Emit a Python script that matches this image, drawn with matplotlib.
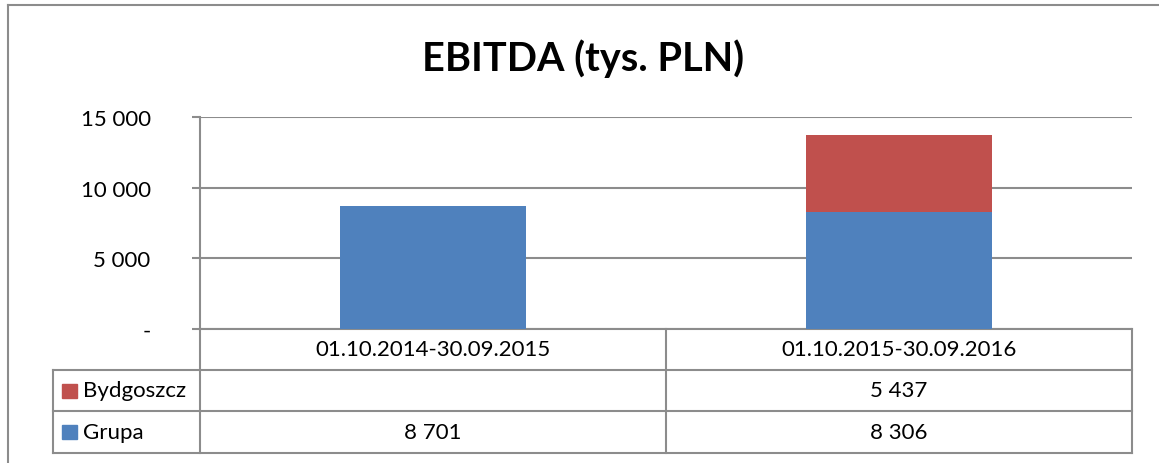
import matplotlib
matplotlib.use("Agg")
import matplotlib.pyplot as plt
from matplotlib.patches import Rectangle
from matplotlib.lines import Line2D

# ---- data ----
categories = ["01.10.2014-30.09.2015", "01.10.2015-30.09.2016"]
series_names = ["Bydgoszcz", "Grupa"]          # table order (top to bottom)
grupa = [8701, 8306]
bydgoszcz = [0, 5437]
bydgoszcz_labels = ["", "5 437"]
grupa_labels = ["8 701", "8 306"]
yticks = [0, 5000, 10000, 15000]
ytick_labels = ["-", "5 000", "10 000", "15 000"]
title = "EBITDA (tys. PLN)"

BLUE = "#4F81BD"
RED = "#C0504D"
GRID = "#8C8C8C"

plt.rcParams['font.family'] = ['Lato', 'DejaVu Sans']

W, H = 1159, 464
fig = plt.figure(figsize=(W / 100, H / 100), dpi=100)

# axes position in pixels
L, R, T, B = 200, 1132, 118, 330
ax = fig.add_axes([L / W, 1 - B / H, (R - L) / W, (B - T) / H])

x = [0, 1]
ax.bar(x, grupa, width=0.4, color=BLUE, zorder=3)
ax.bar(x, bydgoszcz, width=0.4, bottom=grupa, color=RED, zorder=3)

ax.set_xlim(-0.5, 1.5)
ax.set_ylim(0, 15000)
ax.set_yticks(yticks)
ax.set_yticklabels(ytick_labels, fontsize=16)
ax.set_xticks([])
ax.yaxis.grid(True, color=GRID, lw=1.5, zorder=1)
for s in ["top", "right", "bottom"]:
    ax.spines[s].set_visible(False)
ax.spines["left"].set_color(GRID)
ax.spines["left"].set_linewidth(1.5)
ax.tick_params(axis="y", length=6, width=1.5, color=GRID, pad=29.5)

# ---- data table (drawn in axes coordinates) ----
axw = R - L
axh = B - T
def fx(px):
    return (px - L) / axw
def fy(py):
    return (B - py) / axh

row_y = [330, 371, 412, 454]
col_x = [53, 200, 666, 1132]
tr = ax.transAxes
lkw = dict(color=GRID, lw=1.5, transform=tr, clip_on=False)

# horizontal lines
ax.add_line(Line2D([fx(200), fx(1132)], [fy(330), fy(330)], **lkw))
for yy in row_y[1:]:
    ax.add_line(Line2D([fx(col_x[0]), fx(1132)], [fy(yy), fy(yy)], **lkw))
# vertical lines
ax.add_line(Line2D([fx(col_x[0]), fx(col_x[0])], [fy(371), fy(454)], **lkw))
for xx in col_x[1:]:
    ax.add_line(Line2D([fx(xx), fx(xx)], [fy(330), fy(454)], **lkw))

fs = 16
# header
for i, c in enumerate(categories):
    cx = (col_x[i + 1] + col_x[i + 2]) / 2
    ax.text(fx(cx), fy((row_y[0] + row_y[1]) / 2), c, transform=tr,
            ha="center", va="center", fontsize=fs)

rows = [(series_names[0], RED, bydgoszcz_labels),
        (series_names[1], BLUE, grupa_labels)]
for r, (name, col, labels) in enumerate(rows):
    yc = (row_y[r + 1] + row_y[r + 2]) / 2
    ax.add_patch(Rectangle((fx(62), fy(yc + 7)), 15 / axw, 14 / axh,
                           transform=tr, clip_on=False, color=col))
    ax.text(fx(83), fy(yc), name, transform=tr, ha="left", va="center",
            fontsize=fs)
    for i, lab in enumerate(labels):
        cx = (col_x[i + 1] + col_x[i + 2]) / 2
        ax.text(fx(cx), fy(yc), lab, transform=tr, ha="center", va="center",
                fontsize=fs)

# title
fig.text(583 / W, 1 - 59 / H, title, ha="center", va="center",
         fontsize=28.5, fontweight="bold")

# outer chart border
fig.add_artist(Line2D([8 / W, 1], [1 - 6 / H, 1 - 6 / H], color=GRID, lw=1.5,
                      transform=fig.transFigure))
fig.add_artist(Line2D([8 / W, 8 / W], [0, 1 - 6 / H], color=GRID, lw=1.5,
                      transform=fig.transFigure))

fig.savefig("out.png", dpi=100, facecolor="white")
